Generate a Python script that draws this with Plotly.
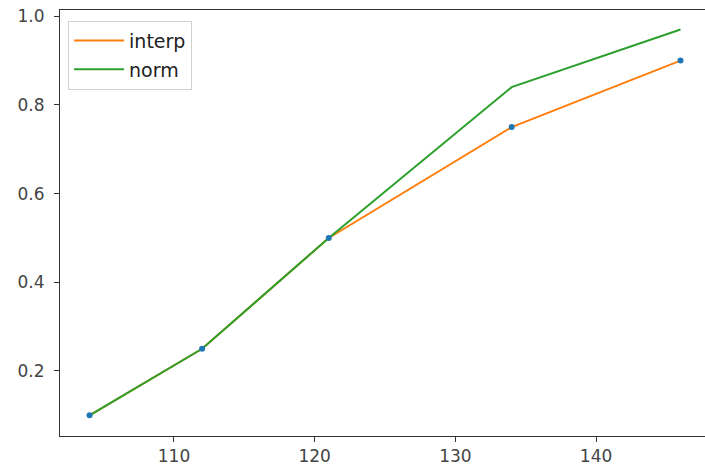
import plotly.graph_objects as go

x_vals = [104, 112, 121, 134, 146]
interp_vals = [0.1, 0.25, 0.5, 0.75, 0.9]
norm_vals = [0.1, 0.25, 0.5, 0.84, 0.97]
x_ticks = [110, 120, 130, 140]
y_ticks = [0.2, 0.4, 0.6, 0.8, 1.0]
y_tick_text = ["0.2", "0.4", "0.6", "0.8", "1.0"]

fig = go.Figure()
fig.add_trace(go.Scatter(x=x_vals, y=interp_vals, mode="lines", name="interp",
                         line=dict(color="#ff7f0e", width=2), legendgroup="a"))
fig.add_trace(go.Scatter(x=x_vals, y=norm_vals, mode="lines", name="norm",
                         line=dict(color="#2ca02c", width=2), legendgroup="b"))
fig.add_trace(go.Scatter(x=x_vals, y=interp_vals, mode="markers", showlegend=False,
                         marker=dict(color="#1f77b4", size=6)))

fig.update_layout(
    width=705, height=475,
    margin=dict(l=60, r=0, t=10, b=39, autoexpand=False),
    plot_bgcolor="white", paper_bgcolor="white",
    font=dict(family="DejaVu Sans", size=17, color="#444"),
    legend=dict(x=0.0125, y=0.975, xanchor="left", yanchor="top",
                bordercolor="#d0d0d0", borderwidth=1, bgcolor="rgba(255,255,255,0.8)",
                font=dict(size=19, color="#222"), tracegroupgap=1, traceorder="grouped",
                itemwidth=50),
)
fig.update_xaxes(range=[101.9, 147.74], tickvals=x_ticks, showgrid=False, zeroline=False,
                 showline=True, linecolor="#333", linewidth=1, mirror=True,
                 ticks="outside", ticklen=5, tickcolor="#333", automargin=False,
                 ticklabeloverflow="allow")
fig.update_yaxes(range=[0.0534, 1.014], tickvals=y_ticks, ticktext=y_tick_text,
                 showgrid=False, zeroline=False,
                 showline=True, linecolor="#333", linewidth=1,
                 ticks="outside", ticklen=5, tickcolor="#333", automargin=False,
                 ticklabeloverflow="allow", ticklabelstandoff=6)

fig.write_html("out.html", config={"displayModeBar": False},
               post_script="document.body.style.margin='0';document.body.style.padding='0';")
